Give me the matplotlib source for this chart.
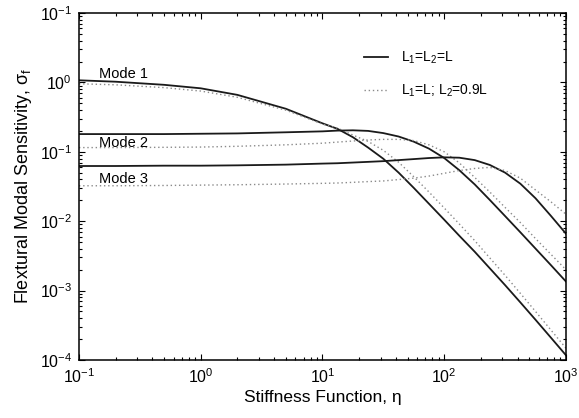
import numpy as np
import matplotlib.pyplot as plt
from matplotlib.ticker import FixedLocator, FixedFormatter, LogLocator, NullFormatter

plt.rcParams['font.family'] = ['Liberation Sans', 'DejaVu Sans']
plt.rcParams['mathtext.fontset'] = 'custom'
plt.rcParams['mathtext.rm'] = 'Liberation Sans'
plt.rcParams['mathtext.it'] = 'Liberation Sans:italic'

# stiffness function values (x)
eta = [0.1, 0.2, 0.5, 1, 2, 5, 10, 13.3, 17.8, 23.7, 31.6, 42.2, 56.2, 75,
       100, 133, 178, 237, 316, 422, 562, 750, 1000]

# L1 = L2 = L (solid)
mode1_equal = [1.072, 1.023, 0.923, 0.822, 0.661, 0.417, 0.257, 0.214, 0.162, 0.115,
               0.0794, 0.0501, 0.0302, 0.0178, 0.0105, 0.00617, 0.00363, 0.00209,
               0.00120, 0.000676, 0.000380, 0.000211, 0.000117]
mode2_equal = [0.180, 0.180, 0.180, 0.182, 0.184, 0.191, 0.197, 0.202, 0.204, 0.200,
               0.186, 0.166, 0.140, 0.111, 0.0813, 0.0543, 0.0339, 0.0202, 0.01186,
               0.00692, 0.00403, 0.00234, 0.00135]
mode3_equal = [0.0624, 0.0624, 0.0631, 0.0631, 0.0638, 0.0653, 0.0676, 0.0684, 0.0700,
               0.0716, 0.0733, 0.0759, 0.0785, 0.0813, 0.0832, 0.0822, 0.0759, 0.0646,
               0.0501, 0.0347, 0.0214, 0.0120, 0.00661]

# L1 = L, L2 = 0.9L (dotted)
mode1_short = [0.955, 0.923, 0.841, 0.750, 0.610, 0.398, 0.251, 0.219, 0.174, 0.141,
               0.105, 0.0708, 0.0437, 0.0263, 0.0155, 0.00912, 0.00525, 0.00295,
               0.00166, 0.000912, 0.000501, 0.000272, 0.000148]
mode2_short = [0.115, 0.115, 0.116, 0.117, 0.120, 0.126, 0.133, 0.138, 0.143, 0.148,
               0.151, 0.151, 0.145, 0.126, 0.100, 0.0692, 0.0427, 0.0263, 0.0158,
               0.00955, 0.00562, 0.00335, 0.00200]
mode3_short = [0.0324, 0.0324, 0.0327, 0.0331, 0.0335, 0.0343, 0.0351, 0.0355, 0.0363,
               0.0372, 0.0380, 0.0398, 0.0417, 0.0447, 0.0490, 0.0537, 0.0575, 0.0596,
               0.0537, 0.0417, 0.0282, 0.0191, 0.0126]

mode_labels = ['Mode 1', 'Mode 2', 'Mode 3']
label_y = [1.32, 0.134, 0.041]

y_ticks = [1e-4, 1e-3, 1e-2, 1e-1, 1e0, 1e1]
y_ticklabels = ['$10^{-4}$', '$10^{-3}$', '$10^{-2}$', '$10^{-1}$', '$10^{0}$', '$10^{-1}$']
x_ticks = [1e-1, 1e0, 1e1, 1e2, 1e3]
x_ticklabels = ['$10^{-1}$', '$10^{0}$', '$10^{1}$', '$10^{2}$', '$10^{3}$']

fig = plt.figure(figsize=(5.79, 4.18), dpi=100)
ax = fig.add_axes([0.1364, 0.1388, 0.8411, 0.8301])

solid = dict(color='#1a1a1a', lw=1.3, ls='-')
dotted = dict(color='#8a8a8a', lw=1.0, ls=(0, (1, 2)))

ax.plot(eta, mode1_equal, label='L$_1$=L$_2$=L', **solid)
ax.plot(eta, mode1_short, label='L$_1$=L; L$_2$=0.9L', **dotted)
ax.plot(eta, mode2_equal, **solid)
ax.plot(eta, mode2_short, **dotted)
ax.plot(eta, mode3_equal, **solid)
ax.plot(eta, mode3_short, **dotted)

for name, yv in zip(mode_labels, label_y):
    ax.text(0.146, yv, name, fontsize=10.5, va='center', ha='left')

ax.set_xscale('log')
ax.set_yscale('log')
ax.set_xlim(0.1, 1000)
ax.set_ylim(1e-4, 10)

ax.yaxis.set_major_locator(FixedLocator(y_ticks))
ax.yaxis.set_major_formatter(FixedFormatter(y_ticklabels))
ax.xaxis.set_major_locator(FixedLocator(x_ticks))
ax.xaxis.set_major_formatter(FixedFormatter(x_ticklabels))
ax.xaxis.set_minor_locator(LogLocator(base=10, subs=np.arange(2, 10), numticks=20))
ax.yaxis.set_minor_locator(LogLocator(base=10, subs=np.arange(2, 10), numticks=20))
ax.xaxis.set_minor_formatter(NullFormatter())
ax.yaxis.set_minor_formatter(NullFormatter())

ax.tick_params(which='both', direction='in', top=True, right=True, width=0.8)
ax.tick_params(which='major', length=4, labelsize=11.5, pad=5)
ax.tick_params(which='minor', length=2)
for s in ax.spines.values():
    s.set_linewidth(1.1)

ax.set_xlabel('Stiffness Function, η', fontsize=12.5, labelpad=3)
ax.set_ylabel(r'Flextural Modal Sensitivity, σ$_\mathrm{f}$', fontsize=13, labelpad=4)

ax.legend(loc='upper left', bbox_to_anchor=(0.56, 0.93), frameon=False,
          fontsize=10, handlelength=1.75, handletextpad=0.9, labelspacing=1.2)

fig.savefig('out.png', dpi=100)
